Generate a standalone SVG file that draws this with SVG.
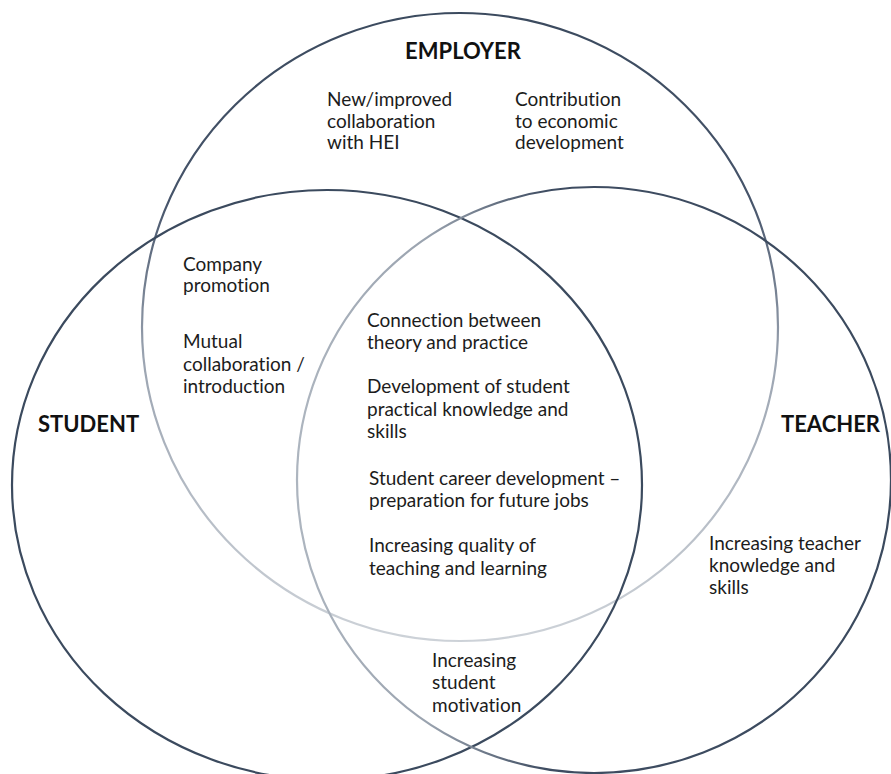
<svg xmlns="http://www.w3.org/2000/svg" width="891" height="774" viewBox="0 0 891 774">
  <defs>
    <linearGradient id="gEmp" gradientUnits="userSpaceOnUse" x1="0" y1="13" x2="0" y2="641">
      <stop offset="0" stop-color="#3b4a5e"/>
      <stop offset="0.3" stop-color="#46546a"/>
      <stop offset="0.55" stop-color="#9ba4b1"/>
      <stop offset="1" stop-color="#cdd2d8"/>
    </linearGradient>
    <linearGradient id="gTea" gradientUnits="userSpaceOnUse" x1="297" y1="0" x2="891" y2="0">
      <stop offset="0" stop-color="#adb5bf"/>
      <stop offset="0.22" stop-color="#9aa3af"/>
      <stop offset="0.42" stop-color="#3e4c61"/>
      <stop offset="1" stop-color="#3b4a5e"/>
    </linearGradient>
    <style>
      .circ { fill: none; stroke-width: 2.2; }
      .lbl { font-family: Lato, "Liberation Sans", sans-serif; font-size: 19px; fill: #1c1c1c; font-variant-ligatures: none; }
      .ttl { font-family: Lato, "Liberation Sans", sans-serif; font-size: 22px; font-weight: bold; fill: #111; }
    </style>
  </defs>
  <rect width="891" height="774" fill="#ffffff"/>
  <g id="connectors">
    <ellipse id="circle-employer" class="circ" cx="460" cy="327" rx="318" ry="314" stroke="url(#gEmp)"/>
    <ellipse id="circle-student" class="circ" cx="327" cy="485" rx="315" ry="295" stroke="#3b4a5e"/>
    <ellipse id="circle-teacher" class="circ" cx="594" cy="480" rx="297" ry="293" stroke="url(#gTea)"/>
  </g>
  <g id="employer">
    <text class="ttl" x="463" y="59" text-anchor="middle">EMPLOYER</text>
    <text class="lbl" x="327" y="106">New/improved</text>
    <text class="lbl" x="327" y="128">collaboration</text>
    <text class="lbl" x="327" y="149">with HEI</text>
    <text class="lbl" x="515" y="106">Contribution</text>
    <text class="lbl" x="515" y="128">to economic</text>
    <text class="lbl" x="515" y="149">development</text>
  </g>
  <g id="student">
    <text class="ttl" x="38" y="432">STUDENT</text>
  </g>
  <g id="teacher">
    <text class="ttl" x="781" y="432">TEACHER</text>
    <text class="lbl" x="709" y="550">Increasing teacher</text>
    <text class="lbl" x="709" y="572">knowledge and</text>
    <text class="lbl" x="709" y="594">skills</text>
  </g>
  <g id="employer-student">
    <text class="lbl" x="183" y="271">Company</text>
    <text class="lbl" x="183" y="292">promotion</text>
    <text class="lbl" x="183" y="348">Mutual</text>
    <text class="lbl" x="183" y="371">collaboration /</text>
    <text class="lbl" x="183" y="393">introduction</text>
  </g>
  <g id="all-three">
    <text class="lbl" x="367" y="327">Connection between</text>
    <text class="lbl" x="367" y="349">theory and practice</text>
    <text class="lbl" x="367" y="393">Development of student</text>
    <text class="lbl" x="367" y="416">practical knowledge and</text>
    <text class="lbl" x="367" y="438">skills</text>
    <text class="lbl" x="369" y="485">Student career development –</text>
    <text class="lbl" x="369" y="507">preparation for future jobs</text>
    <text class="lbl" x="369" y="552">Increasing quality of</text>
    <text class="lbl" x="369" y="575">teaching and learning</text>
  </g>
  <g id="student-teacher">
    <text class="lbl" x="432" y="667">Increasing</text>
    <text class="lbl" x="432" y="689">student</text>
    <text class="lbl" x="432" y="712">motivation</text>
  </g>
</svg>
